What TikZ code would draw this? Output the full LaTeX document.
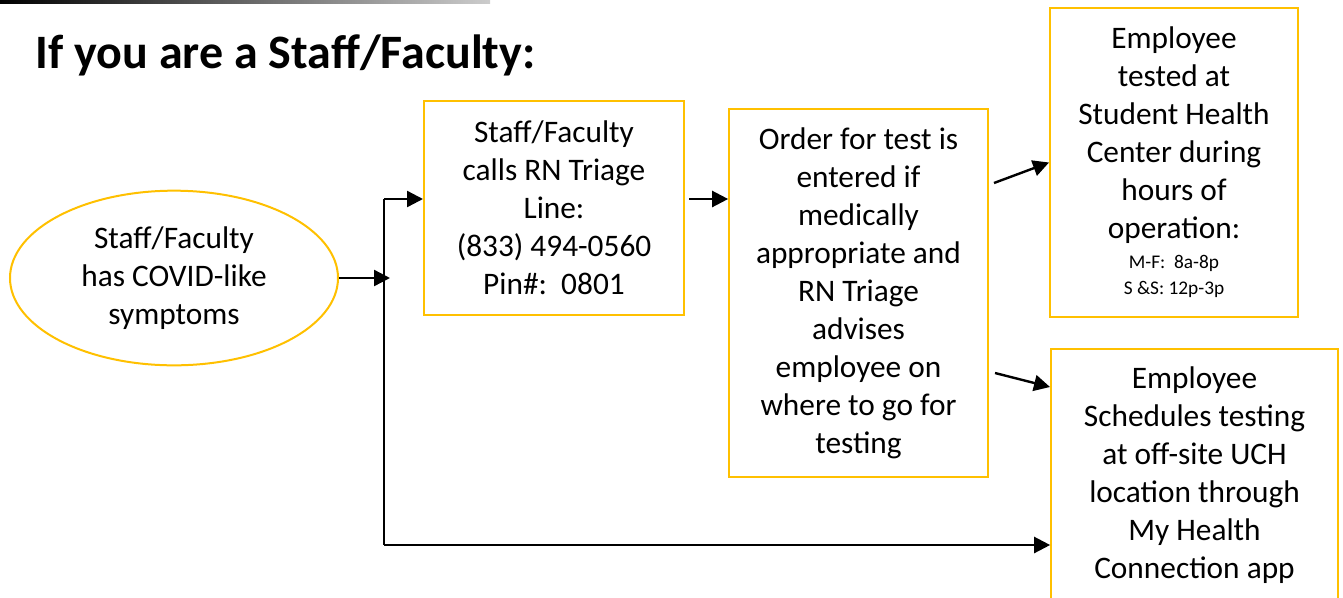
\documentclass[tikz,border=0pt]{standalone}
\usepackage{fontspec}
\setmainfont{Carlito}
\usetikzlibrary{shapes.geometric,arrows.meta,positioning}
\definecolor{uyellow}{HTML}{FFC000}

\begin{document}
\begin{tikzpicture}[x=0.75pt,y=-0.75pt]
	\tikzset{box/.style={draw=uyellow,line width=1.5pt,align=center,inner sep=0pt,font=\fontsize{23.5}{28.5}\selectfont}}
	\tikzset{arr/.style={line width=1.8pt,-{Triangle[length=12pt,width=12pt]}}}
	\useasboundingbox (0,0) rectangle (1343,597);
	\shade[left color=black,right color=gray!40] (0,0) rectangle (490,3);
	\node[anchor=base west,font=\fontsize{36}{43}\selectfont\bfseries] (title) at (31,68) {If you are a Staff/Faculty:};
	% flow
	\node[box,ellipse,minimum width=246pt,minimum height=131pt] (sympt) at (174,278) {Staff/Faculty\\has COVID-like\\symptoms};
	\node[box,minimum width=195pt,minimum height=160.5pt] (calls) at (554,208) {Staff/Faculty\\calls RN Triage\\Line:\\(833) 494-0560\\Pin\#:\ \ 0801};
	\node[box,minimum width=194pt,minimum height=276pt] (order) at (858.5,293) {Order for test is\\entered if\\medically\\appropriate and\\RN Triage\\advises\\employee on\\where to go for\\testing};
	\node[box,minimum width=186pt,minimum height=231.5pt] (shc) at (1174,162.5) {Employee\\tested at\\Student Health\\Center during\\hours of\\operation:\\[-6pt]{\fontsize{14.5}{18}\selectfont M-F:\ \ 8a-8p}\\[-9pt]{\fontsize{14.5}{18}\selectfont S \&S: 12p-3p}};
	\node[box,minimum width=215pt,minimum height=190pt] (uch) at (1194.5,475.5) {Employee\\Schedules testing\\at off-site UCH\\location through\\My Health\\Connection app};
	% junctions
	\coordinate (jmid) at (390,278);
	\coordinate (jtop) at (384,199);
	\coordinate (jbot) at (384,545);
	\coordinate (s3) at (994,183);
	\coordinate (s4) at (995,373);
	\coordinate (e4) at (1050,387);
	\draw[arr] (sympt.east) -- (jmid);
	\draw[line width=1.5pt] (jtop) -- (jbot);
	\draw[arr] (jtop) -- (jtop -| calls.west);
	\draw[arr] (jbot) -- (jbot -| uch.west);
	\draw[arr] ([xshift=3pt]calls.east |- jtop) -- (order.west |- jtop);
	\draw[arr] (s3) -- (shc.west);
	\draw[arr] (s4) -- (e4);
\end{tikzpicture}
\end{document}
